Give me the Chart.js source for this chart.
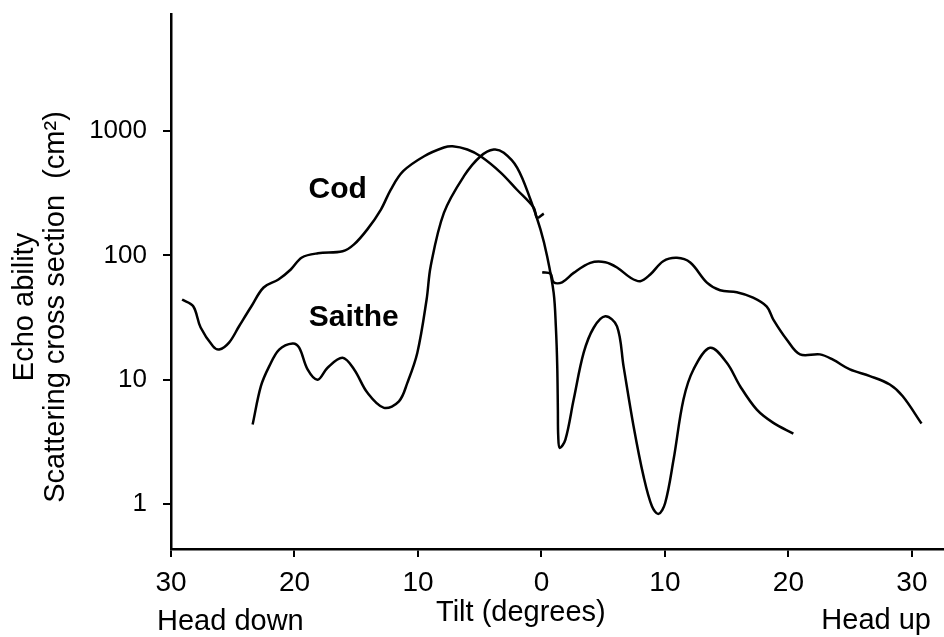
<!DOCTYPE html>
<html lang="en">
<head>
    <meta charset="UTF-8">
    <title>Echo ability vs tilt</title>
    <style>
        body {
            margin: 0;
            background-color: #fff;
        }
        #chart {
            display: block;
        }
    </style>
</head>
<body>
    <canvas id="chart" width="944" height="637"></canvas>
    <script src="https://cdn.jsdelivr.net/npm/chart.js"></script>
    <script>
        // tilt in degrees: negative = head down, positive = head up
        const codTilt = [-29.1, -28.2, -27.6, -26.6, -26.1, -25.3, -24.5, -23.5, -22.5, -21.3, -20.3, -19.4,
            -18.1, -16.1, -15.2, -14.1, -13.0, -12.2, -11.2, -9.5, -7.9, -7.2, -6.0, -4.9, -3.3, -2.0,
            -0.62, -0.35, 0.19, null,
            0.06, 0.73, 0.99, 1.67, 2.61, 3.96, 5.17, 6.12, 7.19, 8.0, 8.81, 9.86, 10.97, 12.05, 13.4,
            14.47, 15.82, 17.14, 18.25, 18.78, 19.86, 20.94, 22.55, 23.61, 24.98, 26.6, 28.21, 29.26, 30.78];
        // scattering cross section, cm2
        const codEcho = [44.2, 39.0, 26.3, 18.6, 17.5, 19.9, 26.8, 38.8, 55.2, 64.0, 77.1, 96.2,
            104, 108, 122, 162, 234, 339, 476, 628, 738, 756, 711, 625, 464, 339,
            242, 201, 217, null,
            73.3, 71.5, 60.8, 60.8, 72.4, 87.2, 88.2, 80.0, 66.4, 62.0, 70.2, 89.8, 95.6, 87.7, 60.5,
            52.5, 50.6, 45.8, 38.8, 30.5, 21.1, 16.0, 16.0, 14.5, 12.1, 10.7, 9.15, 7.36, 4.44];

        const saitheTilt = [-23.39, -22.72, -22.05, -21.24, -20.15, -19.62, -18.94, -18.13, -17.32, -16.11,
            -15.17, -14.09, -12.75, -11.54, -10.86, -10.05, -9.3, -8.97, -7.9, -6.28, -4.93, -3.86, -3.05,
            -1.96, -0.89, -0.08, 0.46, 0.99, 1.17, 1.28, 1.33, 1.36, 1.48, 1.94, 2.61, 3.42, 4.23, 5.17,
            6.12, 6.65, 7.46, 8.27, 8.95, 9.48, 10.02, 10.7, 11.5, 12.31, 13.66, 15.01, 16.09, 17.44,
            18.78, 20.4];
        const saitheEcho = [4.36, 8.87, 12.8, 17.5, 19.6, 18.1, 12.1, 10.0, 12.5, 15.0,
            12.1, 7.85, 5.94, 6.71, 9.44, 16.5, 44.2, 81.9, 220, 434, 628, 711, 669,
            507, 282, 162, 98.6, 50.0, 26.3, 12.8, 5.75, 3.51, 2.83, 3.30, 6.93, 16.5, 26.2, 32.4,
            26.9, 12.8, 4.23, 1.67, 0.96, 0.834, 1.02, 2.28, 6.93, 12.1, 18.1, 13.7, 8.87, 5.75,
            4.50, 3.69];

        const tiltTicks = [-30, -20, -10, 0, 10, 20, 30];
        const echoTicks = [1, 10, 100, 1000];

        const seriesNames = ['Cod', 'Saithe'];
        // where each curve's name sits (tilt, echo)
        const nameAnchors = [[-16.5, 292], [-15.2, 27.3]];

        const font = '"Liberation Sans", Arial, Helvetica, sans-serif';

        function toPoints(xs, ys) {
            return xs.map((x, i) => ({ x: x === null ? NaN : x, y: ys[i] }));
        }

        // fixed axis sizes, no extra room for end labels
        function fitBox(s, size) {
            if (s.isHorizontal()) {
                s.height = size;
            } else {
                s.width = size;
            }
            s.paddingTop = 0;
            s.paddingBottom = 0;
            s.paddingLeft = 0;
            s.paddingRight = 0;
        }

        // curve names plus the axis captions
        const captions = {
            id: 'captions',
            afterDraw(chart) {
                const ctx = chart.ctx;
                const xs = chart.scales.x;
                const ys = chart.scales.y;
                ctx.save();
                ctx.fillStyle = '#000';

                ctx.font = 'bold 30px ' + font;
                ctx.textAlign = 'center';
                ctx.textBaseline = 'alphabetic';
                seriesNames.forEach((name, i) => {
                    const a = nameAnchors[i];
                    ctx.fillText(name, xs.getPixelForValue(a[0]), ys.getPixelForValue(a[1]));
                });

                ctx.font = '29px ' + font;
                ctx.textAlign = 'left';
                ctx.fillText('Head down', 157, 630);
                ctx.fillText('Tilt (degrees)', 436, 621);
                ctx.textAlign = 'right';
                ctx.fillText('Head up', 931, 629);

                ctx.textAlign = 'center';
                ctx.translate(0, 307);
                ctx.rotate(-Math.PI / 2);
                ctx.fillText('Echo ability', 0, 33);
                ctx.fillText('Scattering cross section  (cm\u00b2)', 0, 64);
                ctx.restore();
            }
        };

        const ctx = document.getElementById('chart').getContext('2d');
        const chart = new Chart(ctx, {
            type: 'line',
            data: {
                datasets: [{
                    label: seriesNames[0],
                    data: toPoints(codTilt, codEcho),
                }, {
                    label: seriesNames[1],
                    data: toPoints(saitheTilt, saitheEcho),
                }]
            },
            options: {
                responsive: false,
                animation: false,
                spanGaps: false,
                layout: { padding: { top: 14, left: 0, right: 0, bottom: 0 } },
                elements: {
                    point: { radius: 0 },
                    line: {
                        borderColor: '#000',
                        borderWidth: 2.5,
                        tension: 0.35,
                        fill: false
                    }
                },
                plugins: {
                    legend: { display: false },
                    tooltip: { enabled: false }
                },
                scales: {
                    x: {
                        type: 'linear',
                        min: -30,
                        max: 32.6,
                        afterBuildTicks: s => { s.ticks = tiltTicks.map(v => ({ value: v })); },
                        afterFit: s => fitBox(s, 88),
                        grid: {
                            drawOnChartArea: false,
                            drawTicks: true,
                            tickLength: 8,
                            color: '#000',
                            lineWidth: 2
                        },
                        border: { display: true, color: '#000', width: 2.5 },
                        ticks: {
                            autoSkip: false,
                            maxRotation: 0,
                            padding: 9,
                            color: '#000',
                            font: { family: font, size: 28 },
                            callback: v => String(Math.abs(v))
                        }
                    },
                    y: {
                        type: 'logarithmic',
                        min: 0.435,
                        max: 8750,
                        afterBuildTicks: s => { s.ticks = echoTicks.map(v => ({ value: v })); },
                        afterFit: s => fitBox(s, 171),
                        grid: {
                            drawOnChartArea: false,
                            drawTicks: true,
                            tickLength: 8,
                            color: '#000',
                            lineWidth: 2
                        },
                        border: { display: true, color: '#000', width: 2.5 },
                        ticks: {
                            padding: 16,
                            color: '#000',
                            font: { family: font, size: 26 },
                            callback: v => String(v)
                        }
                    }
                }
            },
            plugins: [captions]
        });
    </script>
</body>
</html>
